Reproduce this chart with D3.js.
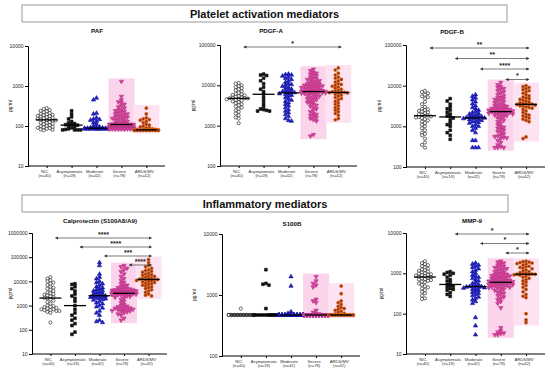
<!DOCTYPE html>
<html>
<head>
<meta charset="utf-8">
<script src="https://cdn.jsdelivr.net/npm/d3@7"></script>
<style>
  body { margin: 0; background: #fff; }
  svg { font-family: "Liberation Sans", Arial, sans-serif; }
  .tick text { font-size: 5px; fill: #222; }
  .catlab { font-size: 4.2px; fill: #333; }
  .ptitle { font-size: 6.2px; font-weight: bold; fill: #111; }
  .ylab { font-size: 4.8px; fill: #222; }
  .header { font-size: 11px; font-weight: bold; fill: #111; }
  .star { font-size: 7px; font-weight: bold; fill: #222; }
</style>
</head>
<body>
<div class="vis"></div>
<script>
// frame size
const FRAME_WIDTH = 550;
const FRAME_HEIGHT = 375;

// categories and tick labels
const CATS = ["NIC", "Asymptomatic", "Moderate", "Severe", "ARDS/MV"];
const CAT_N = ["(n=40)", "(n=19)", "(n=42)", "(n=78)", "(n=42)"];
const HEADERS = ["Platelet activation mediators", "Inflammatory mediators"];

// values, pg/ml, one array per group (NIC, Asym, Moderate, Severe, ARDS/MV)
const pafData = [
  [280, 265, 250, 240, 230, 220, 210, 200, 195, 190, 185, 180, 175, 170, 165, 160, 155, 150, 148, 145,
   140, 138, 135, 130, 125, 120, 118, 115, 110, 105, 100, 98, 95, 92, 90, 88, 85, 82, 80, 78],
  [240, 200, 170, 150, 130, 120, 115, 110, 108, 105, 100, 95, 90, 85, 82, 80, 80, 80, 80],
  [500, 450, 210, 200, 160, 150, 145, 140, 130, 120, 110, 100, 95, 92, 90, 90, 88, 88, 88, 88,
   88, 88, 85, 85, 85, 85, 85, 85, 85, 85, 85, 85, 85, 85, 85, 85, 85, 85, 85, 85, 85, 85],
  [1300, 550, 450, 400, 380, 350, 320, 300, 280, 260, 250, 240, 230, 220, 210, 200, 200, 190, 180, 175,
   170, 165, 160, 155, 150, 145, 140, 135, 130, 125, 120, 118, 115, 112, 110, 110, 110, 110, 110,
   108, 105, 105, 102, 100, 100, 98, 98, 96, 95, 95, 94, 92, 92, 90, 90, 90, 88, 88, 88,
   88, 87, 87, 86, 86, 86, 85, 85, 85, 85, 85, 85, 85, 85, 85, 85, 85, 85, 85],
  [280, 200, 160, 150, 145, 140, 130, 120, 110, 105, 100, 95, 90, 88, 85, 85, 82, 82, 80, 80,
   80, 80, 80, 80, 80, 78, 78, 78, 78, 78, 78, 78, 78, 78, 78, 78, 78, 78, 78, 78, 78, 78]
];

const pdgfaData = [
  [11500, 11000, 10000, 9500, 9000, 8500, 8000, 7500, 7000, 6500, 6200, 6000, 5800, 5600, 5400, 5200, 5000, 4900, 4800, 4800,
   4700, 4600, 4500, 4300, 4200, 4000, 3800, 3600, 3400, 3200, 3000, 2800, 2600, 2400, 2200, 2000, 1800, 1600, 1500, 1150],
  [19000, 18000, 17500, 15000, 13000, 11000, 9000, 8000, 7000, 6000, 5000, 4200, 3500, 3000, 2600, 2500, 2400, 2300, 2300],
  [19000, 18500, 18000, 17000, 16000, 15000, 14000, 13000, 12000, 11000, 10500, 10000, 9500, 9000, 8500, 8000, 7500, 7200, 7000, 6800,
   6600, 6400, 6200, 6000, 5700, 5400, 5000, 4600, 4300, 4000, 3700, 3400, 3100, 2800, 2500, 2300, 2100, 1900, 1700, 1500, 1350, 1300],
  [25000, 23000, 21000, 20000, 19000, 18000, 17000, 16000, 15000, 14500, 14000, 13500, 13000, 12500, 12000, 11500, 11000, 10800, 10500, 10200,
   10000, 9800, 9600, 9400, 9200, 9000, 8800, 8600, 8400, 8200, 8000, 7800, 7600, 7400, 7300, 7200, 7100, 7050, 7000,
   7000, 6900, 6800, 6700, 6600, 6500, 6400, 6300, 6200, 6000, 5800, 5600, 5400, 5200, 5000, 4800, 4600, 4400, 4200, 4000,
   3800, 3600, 3400, 3200, 3000, 2800, 2600, 2400, 2200, 2000, 1900, 1800, 1700, 1600, 1500, 1400, 1300, 600, 550],
  [27000, 24000, 20000, 18000, 16000, 15000, 14000, 13000, 12000, 11000, 10500, 10000, 9500, 9000, 8500, 8000, 7500, 7200, 7000, 6800,
   6700, 6600, 6500, 6300, 6000, 5700, 5400, 5000, 4700, 4400, 4000, 3700, 3400, 3100, 2800, 2600, 2400, 2200, 2000, 1800, 1500, 1400]
];

const pdgfbData = [
  [7500, 7000, 6500, 6000, 5500, 5200, 4800, 4000, 3500, 3000, 2700, 2600, 2500, 2400, 2300, 2200, 2100, 2000, 1900, 1850,
   1800, 1750, 1700, 1650, 1600, 1500, 1400, 1300, 1200, 1100, 1000, 900, 800, 700, 650, 600, 500, 400, 350, 300],
  [4800, 4200, 3500, 3000, 2700, 2500, 2200, 2000, 1800, 1700, 1600, 1400, 1200, 1100, 1000, 800, 700, 600, 480],
  [6000, 5500, 5000, 4500, 4000, 3600, 3200, 2900, 2700, 2500, 2300, 2200, 2100, 2000, 1900, 1850, 1800, 1750, 1700, 1650,
   1620, 1600, 1580, 1550, 1500, 1450, 1400, 1350, 1300, 1250, 1200, 1100, 1000, 1000, 900, 800, 700, 450, 450, 300, 300, 300],
  [12000, 10500, 9500, 9000, 8500, 8000, 7500, 7000, 6500, 6000, 5600, 5200, 5000, 4800, 4600, 4400, 4200, 4000, 3800, 3600,
   3400, 3300, 3200, 3100, 3000, 2900, 2800, 2750, 2700, 2650, 2600, 2550, 2500, 2450, 2400, 2380, 2350, 2320, 2300,
   2300, 2250, 2200, 2150, 2100, 2050, 2000, 1950, 1900, 1850, 1800, 1700, 1600, 1500, 1400, 1300, 1200, 1100, 1000, 950,
   900, 850, 800, 750, 700, 650, 600, 580, 560, 540, 520, 500, 450, 400, 350, 320, 300, 300, 300],
  [10000, 9500, 9000, 8500, 8000, 7500, 7000, 6500, 6000, 5600, 5200, 5000, 4800, 4600, 4400, 4200, 4000, 3800, 3700, 3600,
   3500, 3450, 3400, 3300, 3200, 3100, 3000, 2900, 2800, 2600, 2400, 2200, 2000, 1900, 1800, 1700, 1600, 1500, 1400, 1300, 550, 500]
];

const calproData = [
  [15000, 13000, 11000, 10000, 9000, 8000, 7000, 6000, 5500, 5000, 4500, 4000, 3500, 3200, 3000, 2800, 2600, 2400, 2200, 2100,
   2000, 1800, 1600, 1400, 1200, 1000, 950, 900, 850, 800, 750, 700, 700, 650, 650, 600, 600, 550, 500, 200],
  [8000, 7500, 6000, 5000, 4000, 3000, 2500, 2000, 1500, 1000, 700, 500, 400, 300, 250, 180, 150, 80, 65],
  [60000, 45000, 20000, 15000, 13000, 10000, 9000, 8000, 7000, 6000, 5500, 5000, 4500, 4200, 4000, 3700, 3400, 3200, 3000, 2800,
   2600, 2500, 2400, 2300, 2200, 2100, 2000, 1900, 1800, 1700, 1500, 1300, 1200, 1000, 900, 800, 600, 500, 400, 250, 220, 200],
  [45000, 40000, 35000, 30000, 25000, 20000, 16000, 13000, 11000, 9000, 8000, 7000, 6500, 6000, 5500, 5200, 5000, 4800, 4600, 4500,
   4400, 4300, 4200, 4100, 4000, 3900, 3800, 3700, 3600, 3550, 3500, 3450, 3400, 3350, 3300, 3280, 3250, 3220, 3200,
   3200, 3150, 3100, 3050, 3000, 2950, 2900, 2850, 2800, 2700, 2600, 2500, 2400, 2200, 2000, 1800, 1500, 1300, 1100, 1000,
   950, 900, 850, 800, 780, 750, 720, 700, 680, 650, 620, 600, 580, 550, 500, 450, 400, 300, 250],
  [80000, 60000, 45000, 40000, 35000, 30000, 28000, 26000, 24000, 22000, 20000, 19000, 18000, 17000, 16000, 15000, 14000, 13500, 13000, 12500,
   12000, 12000, 11500, 11000, 10500, 10000, 9500, 9000, 8500, 8000, 7500, 7000, 6500, 6000, 5500, 5000, 4500, 4000, 3500, 3000, 2700, 2500]
];

const s100bData = [
  [600, 470, 470, 470, 470, 470, 470, 470, 470, 470, 470, 470, 470, 470, 470, 470, 470, 470, 470, 470,
   470, 470, 470, 470, 470, 470, 470, 470, 470, 470, 470, 470, 470, 470, 470, 470, 470, 470, 470, 470],
  [2600, 1550, 1500, 1450, 600, 470, 470, 470, 470, 470, 470, 470, 470, 470, 470, 470, 470, 470, 470],
  [2000, 1400, 530, 500, 470, 470, 470, 470, 470, 470, 470, 470, 470, 470, 470, 470, 470, 470, 470, 470,
   470, 470, 470, 470, 470, 470, 470, 470, 470, 470, 470, 470, 470, 470, 470, 470, 470, 470, 470, 470, 470, 470],
  [2000, 1700, 1550, 1450, 1350, 850, 800, 750, 560, 520, 500, 490, 470, 470, 470, 470, 470, 470, 470, 470,
   470, 470, 470, 470, 470, 470, 470, 470, 470, 470, 470, 470, 470, 470, 470, 470, 470, 470, 470, 470,
   470, 470, 470, 470, 470, 470, 470, 470, 470, 470, 470, 470, 470, 470, 470, 470, 470, 470, 470, 470,
   470, 470, 470, 470, 470, 470, 470, 470, 470, 470, 470, 470, 470, 470, 470, 470, 470, 470],
  [1400, 1050, 800, 750, 700, 650, 620, 600, 580, 560, 540, 520, 500, 490, 480, 470, 470, 470, 470, 470,
   470, 470, 470, 470, 470, 470, 470, 470, 470, 470, 470, 470, 470, 470, 470, 470, 470, 470, 470, 470, 470, 470]
];

const mmp9Data = [
  [2000, 1800, 1700, 1600, 1500, 1400, 1300, 1250, 1200, 1150, 1100, 1050, 1000, 980, 950, 920, 900, 880, 850, 820,
   800, 780, 750, 720, 700, 680, 650, 620, 600, 560, 520, 480, 450, 420, 380, 350, 320, 280, 240, 230],
  [1100, 1050, 1000, 950, 900, 800, 700, 650, 600, 530, 500, 480, 450, 420, 400, 380, 330, 300, 270],
  [1800, 1700, 1600, 1500, 1400, 1300, 1200, 1100, 1000, 900, 850, 800, 750, 700, 650, 600, 560, 530, 500, 480,
   470, 470, 460, 450, 440, 430, 420, 400, 380, 360, 340, 320, 300, 280, 260, 240, 220, 200, 180, 80, 50, 30],
  [2000, 1900, 1800, 1700, 1600, 1500, 1450, 1400, 1350, 1300, 1250, 1200, 1150, 1100, 1050, 1000, 980, 950, 920, 900,
   880, 860, 840, 820, 800, 780, 760, 740, 720, 700, 680, 670, 660, 650, 640, 630, 620, 610, 600,
   600, 590, 580, 570, 560, 550, 540, 530, 520, 510, 500, 490, 480, 470, 460, 450, 440, 430, 420, 400,
   380, 360, 340, 320, 300, 280, 260, 240, 220, 200, 180, 140, 45, 38, 35, 33, 32, 30, 30],
  [2000, 1950, 1900, 1850, 1800, 1750, 1700, 1600, 1500, 1450, 1400, 1350, 1300, 1200, 1150, 1100, 1050, 1000, 980, 960,
   950, 950, 940, 920, 900, 850, 800, 750, 700, 650, 600, 550, 500, 450, 400, 350, 300, 270, 250, 100, 70, 60]
];

// significance comparisons: [from group, to group, label]
const pdgfaSig = [[0, 4, "*"]];
const pdgfbSig = [[0, 4, "**"], [1, 4, "**"], [2, 4, "****"], [3, 4, "*"]];
const calproSig = [[0, 4, "****"], [1, 4, "****"], [2, 4, "***"], [3, 4, "****"]];
const mmp9Sig = [[1, 4, "*"], [2, 4, "*"], [3, 4, "*"]];

// panel layout
const PANELS = [
  {title: "PAF", data: pafData, sig: [], x0: 28, x1: 165, dom: [10, 10000], rng: [166, 46], tx: 97, ty: 33, lx: 12, sigTop: 0, sigGap: 0},
  {title: "PDGF-A", data: pdgfaData, sig: pdgfaSig, x0: 220, x1: 357, dom: [100, 100000], rng: [166, 45], tx: 271, ty: 33, lx: 195, sigTop: 47, sigGap: 10},
  {title: "PDGF-B", data: pdgfbData, sig: pdgfbSig, x0: 406, x1: 545, dom: [100, 100000], rng: [167, 45], tx: 452, ty: 34, lx: 381, sigTop: 48, sigGap: 10.5},
  {title: "Calprotectin (S100A8/A9)", data: calproData, sig: calproSig, x0: 32, x1: 167, dom: [10, 1000000], rng: [354, 233], tx: 100, ty: 223, lx: 12, sigTop: 238, sigGap: 9},
  {title: "S100B", data: s100bData, sig: [], x0: 222, x1: 360, dom: [100, 10000], rng: [356, 234], tx: 292, ty: 226, lx: 196, sigTop: 0, sigGap: 0},
  {title: "MMP-9", data: mmp9Data, sig: mmp9Sig, x0: 406, x1: 545, dom: [10, 10000], rng: [354, 233], tx: 472, ty: 223, lx: 383, sigTop: 234, sigGap: 9.5}
];

const HEADER_BOXES = [{x: 22, y: 5, w: 485, h: 17}, {x: 22, y: 195, w: 486, h: 17}];

// marker styles per group
const STYLE = [
  {sym: d3.symbolCircle, size: 8, fill: "#fff", stroke: "#111", rot: 0},
  {sym: d3.symbolSquare, size: 8, fill: "#111", stroke: "#111", rot: 0},
  {sym: d3.symbolTriangle, size: 8, fill: "#2020c8", stroke: "#14149a", rot: 0},
  {sym: d3.symbolTriangle, size: 8, fill: "#e8389a", stroke: "#a83a86", rot: 180},
  {sym: d3.symbolCircle, size: 8, fill: "#a3300c", stroke: "#d66f1c", rot: 0}
];
const BAND_COLOR = [null, null, null, "#fbd4ec", "#fde2f1"];

const svg = d3.select('.vis')
  .append('svg')
    .attr('width', FRAME_WIDTH)
    .attr('height', FRAME_HEIGHT);

// arrow heads for significance lines
const defs = svg.append('defs');
defs.append('marker')
  .attr('id', 'arr')
  .attr('viewBox', '0 0 10 10')
  .attr('refX', 9).attr('refY', 5)
  .attr('markerWidth', 4.5).attr('markerHeight', 4.5)
  .attr('orient', 'auto-start-reverse')
  .append('path').attr('d', 'M0,0 L10,5 L0,10 z').attr('fill', '#333');

// header boxes
HEADER_BOXES.forEach((b, i) => {
  svg.append('rect')
    .attr('x', b.x).attr('y', b.y).attr('width', b.w).attr('height', b.h)
    .attr('fill', '#fff').attr('stroke', '#999').attr('stroke-width', 1);
  svg.append('text')
    .attr('class', 'header')
    .attr('x', b.x + b.w / 2).attr('y', b.y + 12.5)
    .attr('text-anchor', 'middle')
    .text(HEADERS[i]);
});

// simple beeswarm so points at the same height spread sideways
function swarm(vals, yscale, cx, step, maxK) {
  const pts = vals.map((v) => ({v: v, py: yscale(v)})).sort((a, b) => a.py - b.py);
  const placed = [];
  pts.forEach((p, i) => {
    let best = null;
    for (let k = 0; k <= maxK && best === null; k++) {
      const offs = k === 0 ? [0] : [-k, k];
      for (const o of offs) {
        const px = cx + o * step;
        const hit = placed.some((q) => Math.abs(q.px - px) < step * 0.95 && Math.abs(q.py - p.py) < step * 0.9);
        if (!hit) { best = px; break; }
      }
    }
    if (best === null) best = cx + ((i % (2 * maxK + 1)) - maxK) * step;
    p.px = best;
    placed.push(p);
  });
  return pts;
}

PANELS.forEach((P) => {
  const g = svg.append('g');

  const xscale = d3.scalePoint()
    .domain(CATS)
    .range([P.x0, P.x1])
    .padding(0.75);
  const yscale = d3.scaleLog()
    .domain(P.dom)
    .range(P.rng);

  const decades = [];
  for (let v = P.dom[0]; v <= P.dom[1] * 1.001; v *= 10) decades.push(v);

  // pink highlight bands behind severe groups
  P.data.forEach((vals, i) => {
    if (!BAND_COLOR[i]) return;
    const cx = xscale(CATS[i]);
    const top = yscale(d3.max(vals)) - 3;
    const bot = yscale(d3.min(vals)) + 3;
    g.append('rect')
      .attr('x', cx - 13).attr('y', top)
      .attr('width', 26).attr('height', bot - top)
      .attr('fill', BAND_COLOR[i]);
  });

  // points
  P.data.forEach((vals, i) => {
    const cx = xscale(CATS[i]);
    const pts = swarm(vals, yscale, cx, 3.0, 4);
    const st = STYLE[i];
    g.selectAll(null)
      .data(pts)
      .enter().append('path')
        .attr('d', d3.symbol().type(st.sym).size(st.size))
        .attr('transform', (d) => 'translate(' + d.px + ',' + d.py + ') rotate(' + st.rot + ')')
        .attr('fill', st.fill)
        .attr('stroke', st.stroke)
        .attr('stroke-width', 0.6);
  });

  // median lines
  P.data.forEach((vals, i) => {
    const cx = xscale(CATS[i]);
    const my = yscale(d3.median(vals));
    g.append('line')
      .attr('x1', cx - 11).attr('x2', cx + 11)
      .attr('y1', my).attr('y2', my)
      .attr('stroke', '#000').attr('stroke-width', 1.3);
  });

  // axes
  g.append('g')
    .attr('transform', 'translate(' + P.x0 + ',0)')
    .call(d3.axisLeft(yscale).tickValues(decades).tickFormat(d3.format('d')).tickSize(3).tickPadding(1.5))
    .call((a) => a.select('.domain').attr('stroke-width', 1));

  g.append('g')
    .attr('transform', 'translate(0,' + P.rng[0] + ')')
    .call(d3.axisBottom(xscale).tickSize(2).tickFormat(''))
    .call((a) => a.select('.domain').attr('d', 'M' + P.x0 + ',0H' + P.x1).attr('stroke-width', 1));

  // category labels, two lines
  CATS.forEach((c, i) => {
    const t = g.append('text')
      .attr('class', 'catlab')
      .attr('text-anchor', 'middle')
      .attr('x', xscale(c) - 2)
      .attr('y', P.rng[0] + 7);
    t.append('tspan').attr('x', xscale(c) - 2).text(c);
    t.append('tspan').attr('x', xscale(c) - 2).attr('dy', 4.4).text(CAT_N[i]);
  });

  // y label
  g.append('text')
    .attr('class', 'ylab')
    .attr('transform', 'translate(' + P.lx + ',' + ((P.rng[0] + P.rng[1]) / 2) + ') rotate(-90)')
    .attr('text-anchor', 'middle')
    .text('pg/ml');

  // title
  g.append('text')
    .attr('class', 'ptitle')
    .attr('x', P.tx).attr('y', P.ty)
    .attr('text-anchor', 'middle')
    .text(P.title);

  // significance arrows
  P.sig.forEach((s, k) => {
    const y = P.sigTop + k * P.sigGap;
    const xa = xscale(CATS[s[0]]) + 5;
    const xb = xscale(CATS[s[1]]) + 3;
    g.append('line')
      .attr('x1', xa).attr('x2', xb)
      .attr('y1', y).attr('y2', y)
      .attr('stroke', '#444').attr('stroke-width', 0.7)
      .attr('marker-start', 'url(#arr)')
      .attr('marker-end', 'url(#arr)');
    g.append('text')
      .attr('class', 'star')
      .attr('x', (xa + xb) / 2).attr('y', y - 1.5)
      .attr('text-anchor', 'middle')
      .text(s[2]);
  });
});
</script>
</body>
</html>
